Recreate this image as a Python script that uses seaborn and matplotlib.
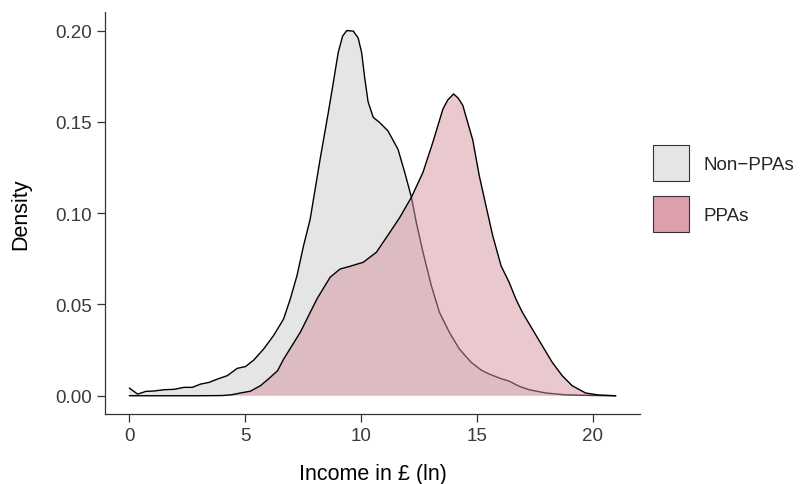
import matplotlib
matplotlib.use("Agg")
import matplotlib.pyplot as plt
from matplotlib.patches import Patch
import seaborn as sns
import pandas as pd

# Non-PPAs density curve
non_x = [0.0, 0.36, 0.72, 1.07, 1.50, 1.93, 2.36, 2.72, 3.08, 3.44, 3.80, 4.23, 4.66,
         5.02, 5.37, 5.80, 6.23, 6.66, 6.95, 7.24, 7.52, 7.81, 8.24, 8.59, 8.81, 9.02,
         9.21, 9.39, 9.67, 9.88, 10.03, 10.17, 10.31, 10.53, 10.82, 11.17, 11.60, 11.89,
         12.18, 12.39, 12.68, 13.04, 13.39, 13.82, 14.25, 14.76, 15.20, 15.54, 15.97,
         16.40, 16.83, 17.26, 17.98, 18.84, 19.84, 21.0]
non_y = [0.0042, 0.0009, 0.0024, 0.0026, 0.0033, 0.0035, 0.0046, 0.0046, 0.0064, 0.0073,
         0.0091, 0.0110, 0.0150, 0.0160, 0.0195, 0.0256, 0.0330, 0.0420, 0.0530, 0.0658,
         0.0820, 0.0968, 0.1297, 0.1550, 0.1717, 0.1880, 0.1970, 0.2000, 0.1997, 0.1960,
         0.1880, 0.1735, 0.1610, 0.1525, 0.1495, 0.1450, 0.1350, 0.1224, 0.1087, 0.0950,
         0.0786, 0.0603, 0.0457, 0.0347, 0.0256, 0.0183, 0.0140, 0.0119, 0.0097, 0.0080,
         0.0052, 0.0033, 0.0015, 0.0005, 0.0002, 0.0]

# PPAs density curve
ppa_x = [0.0, 1.0, 2.0, 3.0, 4.0, 4.40, 4.80, 5.23, 5.66, 6.00, 6.40, 6.66, 7.38, 8.10,
         8.67, 9.10, 9.53, 10.10, 10.67, 11.25, 11.68, 12.18, 12.68, 13.11, 13.54, 13.75,
         14.00, 14.20, 14.40, 14.83, 15.11, 15.40, 15.69, 16.05, 16.40, 16.69, 16.97,
         17.40, 17.83, 18.26, 18.69, 19.12, 19.70, 20.27, 21.0]
ppa_y = [0.0, 0.0, 0.0, 0.0, 0.0001, 0.0005, 0.0015, 0.0025, 0.0055, 0.0091, 0.0137,
         0.0200, 0.0347, 0.0530, 0.0649, 0.0694, 0.0709, 0.0731, 0.0786, 0.0895, 0.0977,
         0.1087, 0.1224, 0.1390, 0.1570, 0.1620, 0.1653, 0.1630, 0.1590, 0.1400, 0.1205,
         0.1040, 0.0877, 0.0712, 0.0621, 0.0530, 0.0457, 0.0365, 0.0274, 0.0183, 0.0110,
         0.0055, 0.0015, 0.0004, 0.0]

groups = ["Non\u2212PPAs", "PPAs"]
x_ticks = [0, 5, 10, 15, 20]
y_ticks = [0.00, 0.05, 0.10, 0.15, 0.20]
y_tick_labels = ["0.00", "0.05", "0.10", "0.15", "0.20"]

df_non = pd.DataFrame({"x": non_x, "y": non_y})
df_ppa = pd.DataFrame({"x": ppa_x, "y": ppa_y})

sns.set_theme(style="ticks")
plt.rcParams["font.family"] = ["Liberation Sans", "DejaVu Sans"]

fig = plt.figure(figsize=(8, 4.85), dpi=100)
ax = fig.add_axes([105 / 800, 1 - 415 / 485, (640 - 105) / 800, (415 - 13.3) / 485])

ax.fill_between(df_non["x"], 0, df_non["y"], facecolor="#E5E5E5", edgecolor="none", zorder=1)
sns.lineplot(data=df_non, x="x", y="y", ax=ax, color="black", linewidth=1.0,
             sort=False, estimator=None, zorder=2)
ax.fill_between(df_ppa["x"], 0, df_ppa["y"], facecolor="#D5939E", alpha=0.5,
                edgecolor="none", zorder=3)
sns.lineplot(data=df_ppa, x="x", y="y", ax=ax, color="black", linewidth=1.0,
             sort=False, estimator=None, zorder=4)

ax.set_xlim(-1.05, 22.05)
ax.set_ylim(-0.01, 0.21)
ax.set_xticks(x_ticks)
ax.set_yticks(y_ticks)
ax.set_yticklabels(y_tick_labels)

for s in ["top", "right"]:
    ax.spines[s].set_visible(False)
for s in ["left", "bottom"]:
    ax.spines[s].set_color("#333333")
    ax.spines[s].set_linewidth(0.9)
ax.tick_params(axis="both", length=5.5, width=0.9, color="#333333",
               labelsize=13.5, labelcolor="#3A3A3A", pad=4)

ax.set_xlabel("Income in \u00a3 (ln)", fontsize=15.5, color="black")
ax.set_ylabel("Density", fontsize=15.5, color="black")
ax.xaxis.set_label_coords(0.5, -0.123)
ax.yaxis.set_label_coords(-0.137, 0.5)

handles = [Patch(facecolor="#E5E5E5", edgecolor="#333333", linewidth=0.8),
           Patch(facecolor="#DBA0AA", edgecolor="#333333", linewidth=0.8)]
fig.legend(handles, groups, loc="upper left", bbox_to_anchor=(653 / 800, 1 - 146 / 485),
           frameon=False, fontsize=13.5, handlelength=1.92, handleheight=2.58,
           labelspacing=0.8, handletextpad=0.75, borderpad=0, borderaxespad=0)

fig.savefig("out.png", dpi=100)
